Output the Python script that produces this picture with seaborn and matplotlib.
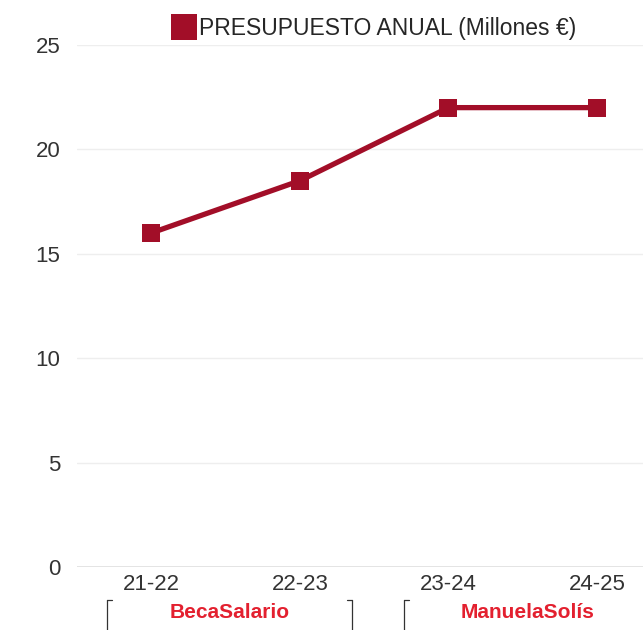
import matplotlib
matplotlib.use("Agg")
import matplotlib.pyplot as plt
import pandas as pd
import seaborn as sns

seasons = ["21-22", "22-23", "23-24", "24-25"]
budget = [16, 18.5, 22, 22]
series_label = "PRESUPUESTO ANUAL (Millones €)"
groups = ["BecaSalario", "ManuelaSolís"]
group_start = [0, 2]
group_end = [1, 3]

line_color = "#A20E28"
group_color = "#E3202F"

df = pd.DataFrame({"Temporada": seasons, "Presupuesto": budget})

sns.set_style("white")
plt.rcParams["font.family"] = ["Liberation Sans", "DejaVu Sans"]

fig = plt.figure(figsize=(6.43, 6.30), dpi=100)
ax = fig.add_axes([0.12, 0.10, 0.88, 0.8286])

sns.lineplot(data=df, x="Temporada", y="Presupuesto", ax=ax, color=line_color,
             linewidth=3.8, marker="s", markersize=13, markeredgewidth=0,
             label=series_label, sort=False)

ax.set_ylim(0, 25)
ax.set_xlim(-0.5, 3.31)
ax.set_yticks([0, 5, 10, 15, 20, 25])
ax.yaxis.grid(True, color="#EEEEEE", linewidth=1)
ax.axhline(0, color="#DDDDDD", linewidth=1.2, zorder=0)
for s in ax.spines.values():
    s.set_visible(False)
ax.tick_params(axis="y", length=0, pad=12, labelsize=16, labelcolor="#333333")
ax.tick_params(axis="x", length=0, pad=5, labelsize=16, labelcolor="#333333")
ax.set_xlabel("")
ax.set_ylabel("")

leg = ax.legend(loc="center", bbox_to_anchor=(0.525, 1.031), frameon=False,
                fontsize=16.5, handlelength=1.0, handletextpad=0.15,
                borderaxespad=0, borderpad=0)
for h in leg.legend_handles:
    h.set_linestyle("none")
    h.set_marker("s")
    h.set_markersize(19)

# group brackets under the season labels
y_top = -0.063
for name, a, b in zip(groups, group_start, group_end):
    left = a - 0.30
    right = b + 0.35
    for xx, d in [(left, 0.035), (right, -0.035)]:
        ax.plot([xx, xx], [y_top, -0.2], transform=ax.get_xaxis_transform(),
                color="#333333", linewidth=0.9, clip_on=False)
        ax.plot([xx, xx + d], [y_top, y_top], transform=ax.get_xaxis_transform(),
                color="#333333", linewidth=0.9, clip_on=False)
    ax.text((a + b) / 2 + 0.03, -0.087, name, transform=ax.get_xaxis_transform(),
            ha="center", va="center", color=group_color, fontsize=15,
            fontweight="bold", clip_on=False)

fig.savefig("out.png", dpi=100)
